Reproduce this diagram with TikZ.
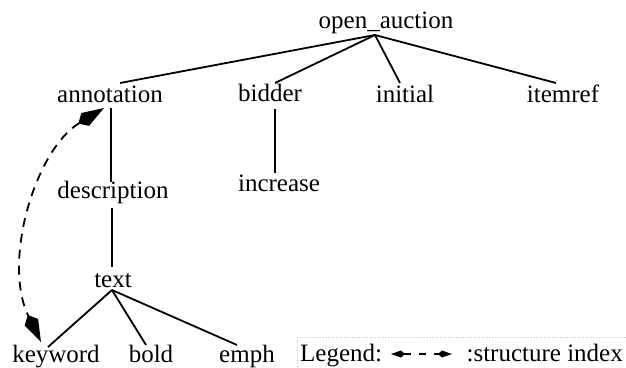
\documentclass[tikz,border=0pt]{standalone}
\usepackage{fontspec}
\setmainfont{Liberation Serif}
\usetikzlibrary{arrows.meta}
\begin{document}
\begin{tikzpicture}[x=1pt,y=-1pt,
  lbl/.style={anchor=base,inner sep=0pt,font=\fontsize{25}{30}\selectfont},
  edge/.style={line width=1.8pt},
  bigkite/.tip={Kite[length=30pt,width=15pt,inset=8pt]},
  smallkite/.tip={Kite[length=14pt,width=7pt,inset=4pt]},
  sidx/.style={line width=1.8pt,dash pattern=on 9pt off 7pt,
     arrows={bigkite-bigkite}},
  sidxsmall/.style={line width=1.4pt,dash pattern=on 7pt off 8pt,
     arrows={smallkite-smallkite}},
  legbox/.style={gray!45,line width=0.6pt,dotted}]
\useasboundingbox (0,0) rectangle (626,367);
% nodes
\node[lbl] (oa) at (386,28) {open\_auction};
\node[lbl] (ann) at (110,102) {annotation};
\node[lbl] (bid) at (270,101) {bidder};
\node[lbl] (ini) at (405,102) {initial};
\node[lbl] (itm) at (563,102) {itemref};
\node[lbl] (desc) at (113,198) {description};
\node[lbl] (inc) at (279,191) {increase};
\node[lbl] (txt) at (113,287) {text};
\node[lbl] (kw) at (56,362) {keyword};
\node[lbl] (bold) at (151,362) {bold};
\node[lbl] (emph) at (247,362) {emph};
% junction / attachment points
\coordinate (oaJ) at (375,35);
\coordinate (annT) at (120,83);
\coordinate (bidT) at (275,83);
\coordinate (iniT) at (400,83);
\coordinate (itmT) at (556,83);
\coordinate (annB) at (111,108);
\coordinate (descT) at (111,182);
\coordinate (descB) at (112,208);
\coordinate (txtT) at (112,267);
\coordinate (bidB) at (275,109);
\coordinate (incT) at (275,173);
\coordinate (txtJ) at (112,290);
\coordinate (kwT) at (48,347);
\coordinate (boldT) at (146,345);
\coordinate (emphT) at (237,345);
\coordinate (annS) at (104,108);
\coordinate (kwS) at (41,342);
% edges
\draw[edge] (oaJ) -- (annT);
\draw[edge] (oaJ) -- (bidT);
\draw[edge] (oaJ) -- (iniT);
\draw[edge] (oaJ) -- (itmT);
\draw[edge] (annB) -- (descT);
\draw[edge] (descB) -- (txtT);
\draw[edge] (bidB) -- (incT);
\draw[edge] (txtJ) -- (kwT);
\draw[edge] (txtJ) -- (boldT);
\draw[edge] (txtJ) -- (emphT);
% structure index
\draw[sidx] (annS) .. controls (35,150) and (2,262) .. (kwS);
% legend
\draw[legbox] (297,337) -- (626,337);
\draw[legbox] (297,337) -- (297,367);
\node[lbl,anchor=base west] (leg) at (300,361) {Legend:};
\coordinate (legA) at (391,354);
\coordinate (legB) at (452,354);
\draw[sidxsmall] (legA) -- (legB);
\node[lbl,anchor=base east] (legt) at (623,361) {:structure index};
\end{tikzpicture}
\end{document}
